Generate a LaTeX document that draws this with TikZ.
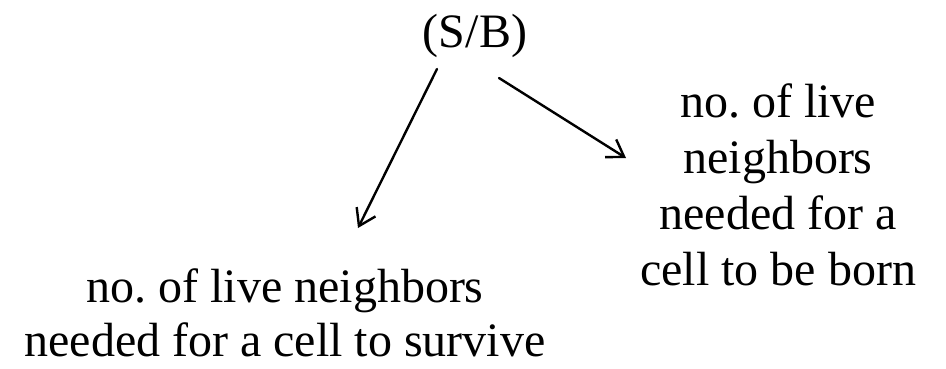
\documentclass[tikz,border=0pt]{standalone}
\usepackage{fontspec}
\setmainfont{Liberation Serif}
\usetikzlibrary{arrows.meta}
\frenchspacing
\tikzset{
  lbl/.style={inner sep=0pt, anchor=base, font=\fontsize{48}{56}\selectfont},
  conn/.style={line width=2.4pt, line cap=round, -{Straight Barb[length=16pt,width=21pt,line width=2.4pt]}}
}
\begin{document}
\begin{tikzpicture}[x=1pt,y=-1pt]
\useasboundingbox[fill=white] (0,0) rectangle (946,368);
\node[lbl] (sb) at (475,47) {(S/B)};
\node[lbl] (r1) at (778,117) {no. of live};
\node[lbl] (r2) at (778,173) {neighbors};
\node[lbl] (r3) at (778,229) {needed for a};
\node[lbl] (r4) at (778,285) {cell to be born};
\node[lbl] (l1) at (285,302) {no. of live neighbors};
\node[lbl] (l2) at (285,356) {needed for a cell to survive};
\coordinate (a1s) at (437,69);
\coordinate (a1e) at (358,228);
\coordinate (a2s) at (499,78);
\coordinate (a2e) at (626,158);
\draw[conn] (a1s) -- (a1e);
\draw[conn] (a2s) -- (a2e);
\end{tikzpicture}
\end{document}
